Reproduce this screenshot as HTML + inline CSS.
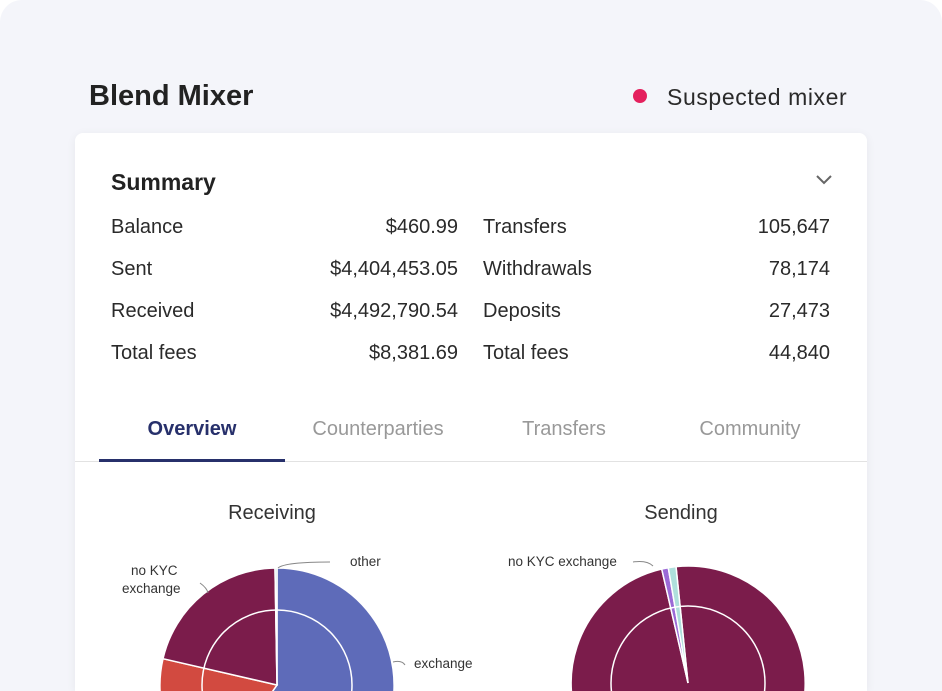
<!DOCTYPE html>
<html><head><meta charset="utf-8"><style>
html,body{margin:0;padding:0;background:#fff;}
body{width:942px;height:691px;position:relative;overflow:hidden;font-family:"Liberation Sans",sans-serif;color:#222;}
.bg{position:absolute;left:0;top:0;width:942px;height:691px;background:#f4f5fa;border-radius:22px 22px 0 0;}
.t{position:absolute;white-space:nowrap;}
.card{position:absolute;left:75px;top:133px;width:792px;height:558px;background:#fff;border-radius:8px 8px 0 0;box-shadow:0 2px 10px rgba(0,0,0,0.06);}
.row{position:absolute;font-size:20px;color:#2a2a2a;}
.r{text-align:right;}
</style></head><body>
<div class="bg"></div>
<div class="t" style="left:89px;top:80px;font-size:29px;font-weight:bold;color:#222;">Blend Mixer</div>
<div style="position:absolute;left:633px;top:89px;width:14px;height:14px;border-radius:50%;background:#e4205d;"></div>
<div class="t" style="left:667px;top:84px;font-size:23px;letter-spacing:0.6px;color:#2a2a2a;">Suspected mixer</div>
<div class="card"></div>
<div class="t" style="left:111px;top:169px;font-size:23px;font-weight:bold;color:#222;">Summary</div>
<svg style="position:absolute;left:815px;top:173px" width="18" height="12"><path d="M2 3 L9 10 L16 3" stroke="#666" stroke-width="2" fill="none"/></svg>
<div class="row" style="left:111px;top:216px">Balance</div><div class="row r" style="left:258px;width:200px;top:216px">$460.99</div>
<div class="row" style="left:483px;top:216px">Transfers</div><div class="row r" style="left:630px;width:200px;top:216px">105,647</div>
<div class="row" style="left:111px;top:258px">Sent</div><div class="row r" style="left:258px;width:200px;top:258px">$4,404,453.05</div>
<div class="row" style="left:483px;top:258px">Withdrawals</div><div class="row r" style="left:630px;width:200px;top:258px">78,174</div>
<div class="row" style="left:111px;top:300px">Received</div><div class="row r" style="left:258px;width:200px;top:300px">$4,492,790.54</div>
<div class="row" style="left:483px;top:300px">Deposits</div><div class="row r" style="left:630px;width:200px;top:300px">27,473</div>
<div class="row" style="left:111px;top:342px">Total fees</div><div class="row r" style="left:258px;width:200px;top:342px">$8,381.69</div>
<div class="row" style="left:483px;top:342px">Total fees</div><div class="row r" style="left:630px;width:200px;top:342px">44,840</div>
<div class="t" style="left:99px;width:186px;text-align:center;top:418px;font-size:20px;font-weight:bold;color:#27306b;">Overview</div>
<div class="t" style="left:285px;width:186px;text-align:center;top:418px;font-size:20px;color:#999;">Counterparties</div>
<div class="t" style="left:471px;width:186px;text-align:center;top:418px;font-size:20px;color:#999;">Transfers</div>
<div class="t" style="left:657px;width:186px;text-align:center;top:418px;font-size:20px;color:#999;">Community</div>
<div style="position:absolute;left:75px;top:461px;width:792px;height:1px;background:#e2e2e2;"></div>
<div style="position:absolute;left:99px;top:459px;width:186px;height:3px;background:#27306b;"></div>
<div class="t" style="left:172px;width:200px;text-align:center;top:502px;font-size:20px;color:#333;">Receiving</div>
<div class="t" style="left:581px;width:200px;text-align:center;top:502px;font-size:20px;color:#333;">Sending</div>
<svg style="position:absolute;left:0;top:0" width="942" height="691" font-family="Liberation Sans, sans-serif" font-size="13.5" fill="#333">
<g stroke="#fff" stroke-width="1.5">
<path d="M277 685 L277 568 A117 117 0 1 1 209.9 780.8 Z" fill="#5e6bb9"/>
<path d="M277 685 L209.9 780.8 A117 117 0 0 1 163 658.7 Z" fill="#d24a40"/>
<path d="M277 685 L163 658.7 A117 117 0 0 1 275 568 Z" fill="#7b1c4b"/>
<path d="M277 685 L275 568 A117 117 0 0 1 277 568 Z" fill="#aedfdc"/>
<circle cx="277" cy="685" r="75" fill="none"/>
<path d="M688 683 L676 566.6 A117 117 0 1 1 661.7 569 Z" fill="#7b1c4b"/>
<path d="M688 683 L661.7 569 A117 117 0 0 1 668.3 567.7 Z" fill="#9b6ad6"/>
<path d="M688 683 L668.3 567.7 A117 117 0 0 1 676 566.6 Z" fill="#aedfdc"/>
<circle cx="688" cy="683" r="77" fill="none"/>
</g>
<g stroke="#888" fill="none" stroke-width="1">
<path d="M278 568 Q285 562 330 562"/>
<path d="M200 583 Q207 588 208 593"/>
<path d="M393 662 Q402 660 405 665"/>
<path d="M633 562 Q647 560 653 566"/>
</g>
<text x="350" y="566">other</text>
<text x="131" y="575">no KYC</text>
<text x="122" y="593">exchange</text>
<text x="414" y="668">exchange</text>
<text x="508" y="566">no KYC exchange</text>
</svg>
</body></html>
